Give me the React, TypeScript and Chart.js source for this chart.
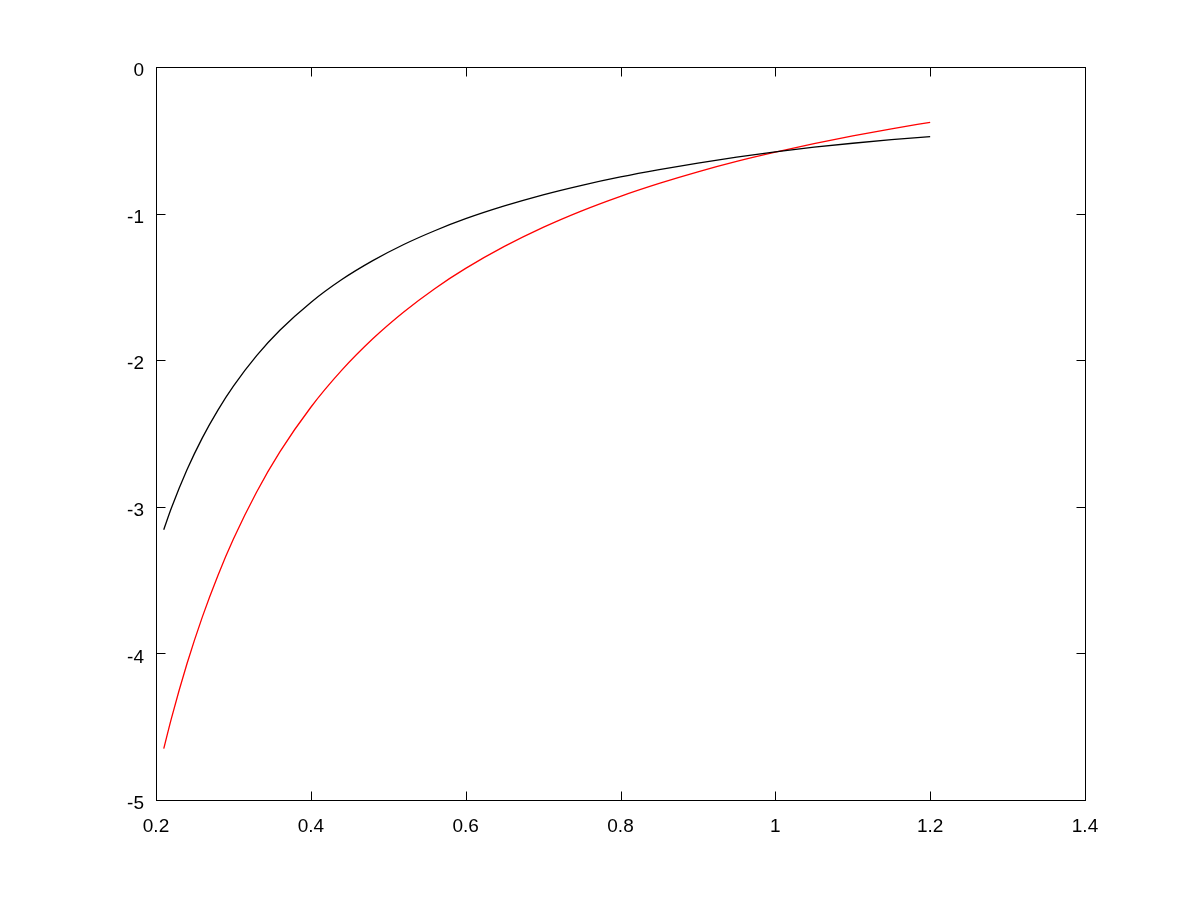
import React, { useEffect, useRef } from "react";
import { Chart, registerables } from "chart.js";

Chart.register(...registerables);

// Sample positions (x)
const xValues = [
  0.21, 0.22, 0.24, 0.26, 0.28, 0.3, 0.33, 0.36, 0.4, 0.44, 0.48, 0.52, 0.56,
  0.6, 0.65, 0.7, 0.75, 0.8, 0.85, 0.9, 0.95, 1.0, 1.05, 1.1, 1.15, 1.2,
];

// Black curve values
const blackSeries = [
  -3.156, -3.007, -2.748, -2.528, -2.34, -2.177, -1.969, -1.796, -1.606, -1.45,
  -1.321, -1.211, -1.117, -1.035, -0.948, -0.872, -0.807, -0.75, -0.7, -0.655,
  -0.615, -0.579, -0.547, -0.52, -0.496, -0.475,
];

// Red curve values
const redSeries = [
  -4.65, -4.441, -4.071, -3.749, -3.468, -3.22, -2.899, -2.626, -2.321, -2.068,
  -1.854, -1.671, -1.512, -1.374, -1.224, -1.094, -0.981, -0.882, -0.794,
  -0.715, -0.644, -0.581, -0.523, -0.47, -0.422, -0.377,
];

// Tick values
const xTicks = [0.2, 0.4, 0.6, 0.8, 1.0, 1.2, 1.4];
const yTicks = [-5, -4, -3, -2, -1, 0];

const FONT = { family: "'Liberation Sans', Arial, Helvetica, sans-serif", size: 19 };

const framePlugin = {
  id: "frame",
  afterDraw(chart: any) {
    const { ctx, chartArea: a, scales } = chart;
    const L = Math.round(a.left) + 0.5;
    const R = Math.round(a.right) + 0.5;
    const T = Math.round(a.top) + 0.5;
    const B = Math.round(a.bottom) + 0.5;
    const tl = 9;
    ctx.save();
    ctx.strokeStyle = "#000";
    ctx.lineWidth = 1;
    ctx.strokeRect(L, T, R - L, B - T);
    ctx.beginPath();
    for (const t of scales.x.ticks) {
      const px = Math.round(scales.x.getPixelForValue(t.value)) + 0.5;
      ctx.moveTo(px, B);
      ctx.lineTo(px, B - tl);
      ctx.moveTo(px, T);
      ctx.lineTo(px, T + tl);
    }
    for (const t of scales.y.ticks) {
      const py = Math.round(scales.y.getPixelForValue(t.value)) + 0.5;
      ctx.moveTo(L, py);
      ctx.lineTo(L + tl, py);
      ctx.moveTo(R, py);
      ctx.lineTo(R - tl, py);
    }
    ctx.stroke();
    ctx.restore();
  },
};

export default function App() {
  const ref = useRef<HTMLCanvasElement>(null);

  useEffect(() => {
    const canvas = ref.current;
    if (!canvas) return;
    const chart = new Chart(canvas, {
      type: "line",
      data: {
        datasets: [
          {
            label: "black",
            data: xValues.map((x, i) => ({ x, y: blackSeries[i] })),
            borderColor: "#000000",
            borderWidth: 1.3,
            pointRadius: 0,
            fill: false,
            cubicInterpolationMode: "monotone",
          },
          {
            label: "red",
            data: xValues.map((x, i) => ({ x, y: redSeries[i] })),
            borderColor: "#ff0000",
            borderWidth: 1.3,
            pointRadius: 0,
            fill: false,
            cubicInterpolationMode: "monotone",
          },
        ],
      },
      options: {
        responsive: false,
        animation: false,
        events: [],
        layout: { padding: { left: 0, top: 67, right: 115, bottom: 0 } },
        plugins: {
          legend: { display: false },
          title: { display: false },
          tooltip: { enabled: false },
        },
        scales: {
          x: {
            type: "linear",
            min: 0.2,
            max: 1.4,
            grid: { display: false, drawTicks: false },
            border: { display: false },
            afterBuildTicks: (scale: any) => {
              scale.ticks = xTicks.map((v) => ({ value: v }));
            },
            afterFit: (scale: any) => {
              scale.height = 100;
            },
            ticks: {
              color: "#000",
              font: FONT,
              padding: 15,
              maxRotation: 0,
              autoSkip: false,
              callback: (v: any) => String(Number(Number(v).toFixed(1))),
            },
          },
          y: {
            type: "linear",
            min: -5,
            max: 0,
            grid: { display: false, drawTicks: false },
            border: { display: false },
            afterBuildTicks: (scale: any) => {
              scale.ticks = yTicks.map((v) => ({ value: v }));
            },
            afterFit: (scale: any) => {
              scale.width = 156;
            },
            ticks: {
              color: "#000",
              font: FONT,
              padding: 12,
              labelOffset: 4,
              autoSkip: false,
              callback: (v: any) => String(Number(v)),
            },
          },
        },
      },
      plugins: [framePlugin],
    });
    return () => chart.destroy();
  }, []);

  return (
    <div
      style={{
        position: "absolute",
        left: 0,
        top: 0,
        width: 1200,
        height: 900,
        background: "#ffffff",
      }}
    >
      <canvas
        ref={ref}
        width={1200}
        height={900}
        style={{ display: "block", width: 1200, height: 900 }}
      />
    </div>
  );
}
